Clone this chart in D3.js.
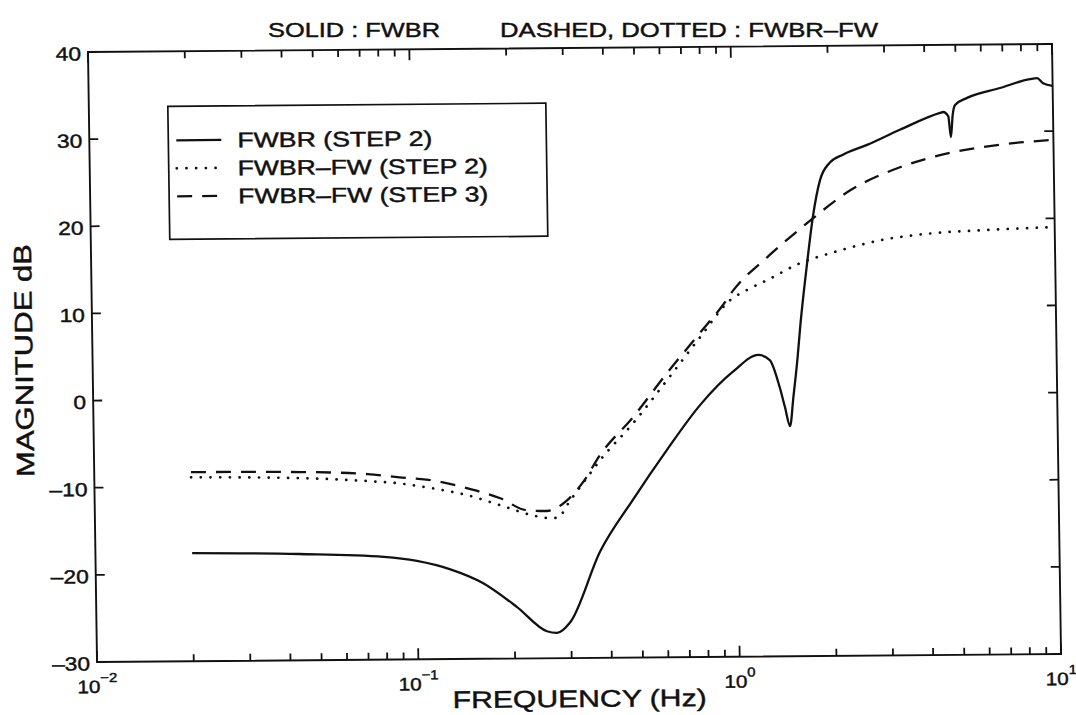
<!DOCTYPE html>
<html>
<head>
<meta charset="utf-8">
<script src="https://cdn.jsdelivr.net/npm/d3@7"></script>
<style>
	body { margin: 0; background: #fff; }
	svg { font-family: "Liberation Sans", Arial, Helvetica, sans-serif; }
	svg text { stroke: #111; stroke-width: 0.45px; }
</style>
</head>
<body>
<svg id="chart" width="1076" height="715"></svg>
<script>
// values (frequency in Hz, magnitude in dB)
const freqSolid = [0.02, 0.043, 0.079, 0.10, 0.127, 0.16, 0.204, 0.252, 0.271, 0.298, 0.372, 0.473, 0.607, 0.773, 0.982,
	1.18, 1.28, 1.37, 1.42, 1.47, 1.51, 1.56, 1.60, 1.69, 1.77, 1.87, 2.01, 2.21, 2.63, 3.33, 4.45, 4.55, 4.72, 4.80,
	4.87, 4.96, 5.41, 6.86, 8.51, 8.95, 9.34, 10];
const dbSolid = [-17.6, -17.8, -18.2, -18.7, -19.7, -21.3, -24.1, -26.9, -27.1, -25.9, -17.8, -11.9, -6.2, -1.1, 2.7,
	4.6, 4.0, 0.9, -1.4, -3.6, -0.3, 4.0, 8.0, 15.1, 20.4, 24.6, 26.6, 27.5, 28.6, 30.3, 32.2, 32.3, 31.8, 29.4,
	31.9, 33.1, 33.9, 35.0, 36.0, 36.1, 35.5, 35.2];

const freqDotted = [0.02, 0.044, 0.071, 0.089, 0.113, 0.144, 0.183, 0.231, 0.255, 0.274, 0.302, 0.332, 0.376, 0.478,
	0.612, 0.779, 0.969, 1.10, 1.27, 1.61, 2.04, 2.92, 4.18, 5.98, 10];
const dbDotted = [-8.9, -9.1, -9.5, -9.8, -10.4, -11.2, -12.4, -13.6, -13.9, -13.9, -11.9, -9.9, -7.3, -3.1,
	1.8, 6.7, 10.9, 12.1, 13.2, 15.1, 16.3, 17.7, 18.4, 18.7, 19.0];

const freqDashed = [0.02, 0.044, 0.071, 0.089, 0.113, 0.144, 0.183, 0.221, 0.255, 0.295, 0.332, 0.376, 0.478, 0.612,
	0.779, 0.922, 0.991, 1.27, 1.70, 2.32, 3.32, 4.76, 6.82, 10];
const dbDashed = [-8.3, -8.4, -8.7, -9.1, -9.5, -10.4, -11.6, -13.0, -13.1, -11.9, -9.8, -6.7, -2.4, 2.6,
	7.2, 10.4, 12.0, 15.8, 19.7, 23.4, 26.0, 27.6, 28.5, 29.0];

const yTicks		= [-30, -20, -10, 0, 10, 20, 30, 40];
const xDecades		= [0.01, 0.1, 1, 10];
const xExponents	= ['\u22122', '\u22121', '0', '1'];
const legendLabels	= ['FWBR  (STEP 2)', 'FWBR\u2013FW  (STEP 2)', 'FWBR\u2013FW  (STEP 3)'];

let plotW	= 964;
let plotH	= 610;
let ink		= '#111';

let svg = d3.select('#chart');
svg.append('rect').attr('width', 1076).attr('height', 715).attr('fill', '#fff').attr('stroke', 'none');

// title sits above the frame
svg.append('text')
	.attr('x', 268).attr('y', 37)
	.attr('font-size', 21).attr('fill', ink)
	.attr('textLength', 172).attr('lengthAdjust', 'spacingAndGlyphs')
	.text('SOLID : FWBR');
svg.append('text')
	.attr('x', 500).attr('y', 37)
	.attr('font-size', 21).attr('fill', ink)
	.attr('textLength', 378).attr('lengthAdjust', 'spacingAndGlyphs')
	.text('DASHED, DOTTED : FWBR\u2013FW');

// the original is a slightly skewed scan, so the whole plot gets the same small tilt
let g = svg.append('g')
	.attr('transform', 'matrix(1,-0.0083,0.0148,1,88,52)');

let x = d3.scaleLog().domain([0.01, 10]).range([0, plotW]);
let y = d3.scaleLinear().domain([-30, 40]).range([plotH, 0]);

// log ticks: decades get a longer mark than the 2..9 ones
let xAll	= x.ticks().map((d) => ({ v: d, major: Math.abs(Math.log10(d) - Math.round(Math.log10(d))) < 1e-6 }));

let tickG = g.append('g')
	.attr('stroke', ink)
	.attr('stroke-width', 1.8);

// inward ticks on all four sides, matlab style
[0, plotH].forEach((base) => {
	let dir = base === 0 ? 1 : -1;
	tickG.selectAll(null).data(xAll).enter()
		.append('line')
			.attr('x1', (o) => (x(o.v)))
			.attr('x2', (o) => (x(o.v)))
			.attr('y1', base)
			.attr('y2', (o) => (base + dir * (o.major ? 11 : 7)));
});
[0, plotW].forEach((base) => {
	let dir = base === 0 ? 1 : -1;
	tickG.selectAll(null).data(yTicks).enter()
		.append('line')
			.attr('x1', base)
			.attr('x2', base + dir * 9)
			.attr('y1', (o) => (y(o)))
			.attr('y2', (o) => (y(o)));
});

g.append('rect')
	.attr('width', plotW)
	.attr('height', plotH)
	.attr('fill', 'none')
	.attr('stroke', ink)
	.attr('stroke-width', 1.9);

// tick labels
g.selectAll('.ylab').data(yTicks).enter()
	.append('text')
		.attr('class', 'ylab')
		.attr('transform', (d) => ('translate(-7,' + (y(d) + 1.5) + ') scale(1.2,1)'))
		.attr('text-anchor', 'end')
		.attr('dy', '0.36em')
		.attr('font-size', 19)
		.attr('fill', ink)
		.text((d) => (d < 0 ? '\u2013' + Math.abs(d) : d));

let xlab = g.selectAll('.xlab').data(xDecades).enter()
	.append('text')
		.attr('class', 'xlab')
		.attr('transform', (d) => ('translate(' + x(d) + ',' + (plotH + 31) + ') scale(1.15,1)'))
		.attr('text-anchor', 'middle')
		.attr('font-size', 18)
		.attr('fill', ink);
xlab.append('tspan').text('10');
xlab.append('tspan')
	.attr('font-size', 13)
	.attr('dy', -11)
	.text((d, i) => (xExponents[i]));

// axis titles
g.append('text')
	.attr('x', x(Math.sqrt(0.1))).attr('y', plotH + 49)
	.attr('text-anchor', 'middle')
	.attr('font-size', 24).attr('fill', ink)
	.attr('textLength', 254).attr('lengthAdjust', 'spacingAndGlyphs')
	.text('FREQUENCY (Hz)');

g.append('text')
	.attr('transform', 'translate(-60,' + (plotH / 2 + 3) + ') rotate(-90)')
	.attr('text-anchor', 'middle')
	.attr('font-size', 25).attr('fill', ink)
	.attr('textLength', 233).attr('lengthAdjust', 'spacingAndGlyphs')
	.text('MAGNITUDE dB');

// curves
let lineFunc = d3.line()
	.x((o) => (x(o[0])))
	.y((o) => (y(o[1])))
	.curve(d3.curveMonotoneX);

let styles = [
	{ dash: null, width: 2.3, cap: 'butt' },
	{ dash: '0.1,9.6', width: 2.7, cap: 'round' },
	{ dash: '15,10', width: 2.3, cap: 'butt' }
];
let series = [
	d3.zip(freqSolid, dbSolid),
	d3.zip(freqDotted, dbDotted),
	d3.zip(freqDashed, dbDashed)
];

series.forEach((s, i) => {
	g.append('path')
		.attr('d', lineFunc(s))
		.attr('fill', 'none')
		.attr('stroke', ink)
		.attr('stroke-width', styles[i].width)
		.attr('stroke-linecap', styles[i].cap)
		.attr('stroke-linejoin', 'round')
		.attr('stroke-dasharray', styles[i].dash);
});

// legend
let legend = g.append('g').attr('transform', 'translate(79,55)');
legend.append('rect')
	.attr('width', 378)
	.attr('height', 133)
	.attr('fill', '#fff')
	.attr('stroke', ink)
	.attr('stroke-width', 1.7);

let legendWidths = [195, 250, 250];
legendLabels.forEach((lbl, i) => {
	let ly = 34 + i * 28;
	legend.append('line')
		.attr('x1', 8).attr('x2', 53)
		.attr('y1', ly).attr('y2', ly)
		.attr('stroke', ink)
		.attr('stroke-width', styles[i].width)
		.attr('stroke-linecap', styles[i].cap)
		.attr('stroke-dasharray', styles[i].dash);
	legend.append('text')
		.attr('x', 69).attr('y', ly)
		.attr('dy', '0.36em')
		.attr('font-size', 21).attr('fill', ink)
		.attr('textLength', legendWidths[i]).attr('lengthAdjust', 'spacingAndGlyphs')
		.text(lbl);
});
</script>
</body>
</html>
